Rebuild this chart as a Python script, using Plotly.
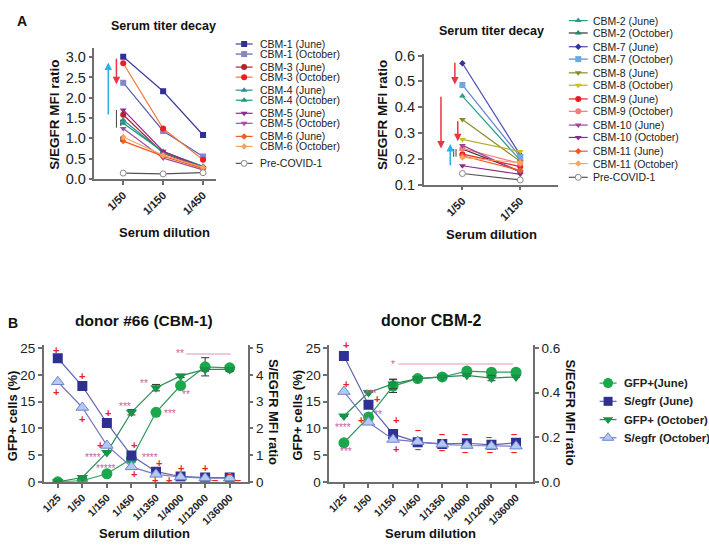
import plotly.graph_objects as go

W, H = 709, 548
FONT = 'Liberation Sans, Arial, sans-serif'

# ---------------- Panel A, left: serum titer decay CBM-1..6
dil_a1 = ['1/50', '1/150', '1/450']
cbm1_june = [3.01, 2.16, 1.08]
cbm1_oct = [2.37, 1.18, 0.55]
cbm3_june = [1.58, 0.63, 0.27]
cbm3_oct = [2.85, 1.24, 0.47]
cbm4_june = [1.45, 0.65, 0.30]
cbm4_oct = [1.37, 0.67, 0.31]
cbm5_june = [1.70, 0.68, 0.28]
cbm5_oct = [1.24, 0.51, 0.22]
cbm6_june = [0.93, 0.56, 0.25]
cbm6_oct = [1.03, 0.58, 0.28]
precovid_a1 = [0.14, 0.12, 0.15]

# ---------------- Panel A, right: CBM-2, 7..11
dil_a2 = ['1/50', '1/150']
cbm2_june = [0.443, 0.195]
cbm2_oct = [0.238, 0.152]
cbm7_june = [0.570, 0.215]
cbm7_oct = [0.486, 0.207]
cbm8_june = [0.352, 0.190]
cbm8_oct = [0.275, 0.228]
cbm9_june = [0.218, 0.170]
cbm9_oct = [0.240, 0.182]
cbm10_june = [0.252, 0.148]
cbm10_oct = [0.173, 0.140]
cbm11_june = [0.212, 0.155]
cbm11_oct = [0.205, 0.185]
precovid_a2 = [0.143, 0.118]

# ---------------- Panel B: neutralisation curves
dil_b = ['1/25', '1/50', '1/150', '1/450', '1/1350', '1/4000', '1/12000', '1/36000']
# donor #66 (CBM-1)
b1_gfp_june = [0.0, 0.2, 1.5, 4.3, 13.0, 18.0, 21.5, 21.3]
b1_gfp_june_err = [0, 0, 0, 0, 0, 0, 1.7, 0.4]
b1_gfp_oct = [0.0, 0.8, 5.5, 13.0, 17.6, 19.8, 21.0, 21.0]
b1_gfp_oct_err = [0, 0, 0, 0.5, 0.6, 0.3, 0.3, 0.3]
b1_segfr_june = [4.62, 3.58, 2.20, 0.98, 0.38, 0.20, 0.16, 0.16]
b1_segfr_oct = [3.74, 2.78, 1.36, 0.56, 0.28, 0.18, 0.14, 0.14]
# donor CBM-2
b2_gfp_june = [7.3, 12.1, 17.9, 19.3, 19.6, 20.7, 20.5, 20.5]
b2_gfp_june_err = [0, 0.6, 1.2, 0, 0, 0, 0, 0]
b2_gfp_oct = [12.3, 16.7, 18.3, 19.3, 19.6, 19.9, 19.4, 19.6]
b2_gfp_oct_err = [0, 0, 0.9, 0, 0, 0.2, 0.5, 0]
b2_segfr_june = [0.564, 0.346, 0.214, 0.178, 0.170, 0.173, 0.166, 0.175]
b2_segfr_oct = [0.405, 0.267, 0.190, 0.180, 0.168, 0.163, 0.160, 0.160]

# significance marks (category index, GFP %)
b1_plus = [(-0.07, 24.6), (-0.07, 16.8), (1.0, 19.8), (0.98, 11.8), (2.04, 12.9), (1.73, 6.8),
           (3.1, 6.8), (3.1, 1.4), (4.12, 3.6), (3.95, 0.4), (4.52, 0.4), (5.0, 2.5), (6.0, 2.5)]
b1_minus = [(6.4, 0.3), (6.99, 1.4), (7.33, 0.3)]
b1_stars = [('**', 4.97, 23.9), ('**', 3.51, 18.3), ('**', 5.23, 16.4), ('***', 2.74, 14.1),
            ('***', 4.56, 12.7), ('****', 1.43, 4.5), ('*****', 1.96, 2.4), ('****', 3.75, 4.5)]
b2_plus = [(0.09, 25.5), (0.09, 18.3), (0.7, 11.5), (1.34, 15.5), (2.1, 11.5), (2.1, 6.1)]
b2_minus = [(3.02, 9.7), (3.02, 6.1), (3.97, 8.9), (3.97, 6.0), (4.91, 8.9), (4.93, 5.5),
            (5.89, 8.4), (5.93, 5.5), (6.9, 8.9), (6.93, 5.5)]
b2_stars = [('****', -0.04, 10.1), ('***', 0.09, 5.6), ('***', 1.1, 16.6), ('**', 1.4, 12.6),
            ('*', 2.01, 22.0)]


def px(x):
    return x / W


def py(y):
    return 1 - y / H


series_a1 = [
    ('CBM-1 (June)', cbm1_june, 'square', '#2e3192', '#3b3f9c', 6),
    ('CBM-1 (October)', cbm1_oct, 'square', '#8486c8', '#5d60b0', 6),
    ('CBM-3 (June)', cbm3_june, 'circle', '#b8202a', '#b8202a', 6),
    ('CBM-3 (October)', cbm3_oct, 'circle', '#ee1c25', '#f07a3a', 6),
    ('CBM-4 (June)', cbm4_june, 'triangle-up', '#2a8f96', '#2a8f96', 6),
    ('CBM-4 (October)', cbm4_oct, 'triangle-up', '#179a78', '#179a78', 6),
    ('CBM-5 (June)', cbm5_june, 'triangle-down', '#93278f', '#93278f', 6),
    ('CBM-5 (October)', cbm5_oct, 'triangle-down', '#a2509e', '#a2509e', 6),
    ('CBM-6 (June)', cbm6_june, 'diamond', '#f15a24', '#f15a24', 5),
    ('CBM-6 (October)', cbm6_oct, 'diamond', '#f8a35e', '#f8a35e', 5),
    ('Pre-COVID-1', precovid_a1, 'circle', 'white', '#555555', 6),
]

series_a2 = [
    ('CBM-2 (June)', cbm2_june, 'triangle-up', '#2a9d8f', '#2a9d8f', 6),
    ('CBM-2 (October)', cbm2_oct, 'triangle-up', '#178a68', '#333333', 6),
    ('CBM-7 (June)', cbm7_june, 'diamond', '#33339a', '#4b4bb0', 5),
    ('CBM-7 (October)', cbm7_oct, 'square', '#6aa8e4', '#6a80d0', 6),
    ('CBM-8 (June)', cbm8_june, 'triangle-down', '#8a8a2a', '#8a8a2a', 6),
    ('CBM-8 (October)', cbm8_oct, 'triangle-down', '#c9c020', '#b5b030', 6),
    ('CBM-9 (June)', cbm9_june, 'circle', '#ed1c24', '#ed1c24', 6),
    ('CBM-9 (October)', cbm9_oct, 'circle', '#f47c7c', '#f47c7c', 6),
    ('CBM-10 (June)', cbm10_june, 'triangle-down', '#a0449c', '#a0449c', 6),
    ('CBM-10 (October)', cbm10_oct, 'triangle-down', '#8a2a8a', '#8a2a8a', 6),
    ('CBM-11 (June)', cbm11_june, 'diamond', '#f15a24', '#f15a24', 5),
    ('CBM-11 (October)', cbm11_oct, 'diamond', '#f8a35e', '#f8a35e', 5),
    ('Pre-COVID-1', precovid_a2, 'circle', 'white', '#555555', 6),
]

fig = go.Figure()


def marker_style(symbol, mcolor, lcolor, size):
    if mcolor == 'white':
        return dict(symbol=symbol, size=size, color='white', line=dict(color='#888888', width=1))
    return dict(symbol=symbol, size=size, color=mcolor, line=dict(width=0))


for name, vals, sym, mc, lc, sz in series_a1:
    fig.add_trace(go.Scatter(x=dil_a1, y=vals, xaxis='x', yaxis='y', mode='lines+markers',
                             line=dict(color=lc, width=1.2), marker=marker_style(sym, mc, lc, sz),
                             name=name, showlegend=False))

for name, vals, sym, mc, lc, sz in series_a2:
    fig.add_trace(go.Scatter(x=dil_a2, y=vals, xaxis='x2', yaxis='y2', mode='lines+markers',
                             line=dict(color=lc, width=1.2), marker=marker_style(sym, mc, lc, sz),
                             name=name, showlegend=False))

series_b = [
    ('GFP+(June)', 'circle', '#1ba84c', '#2f9c5a', 11, 'white'),
    ('S/egfr (June)', 'square', '#2e3192', '#6063b0', 10, 'white'),
    ('GFP+ (October)', 'triangle-down', '#159445', '#2a8a55', 10, 'white'),
    ('S/egfr (October)', 'triangle-up', '#b3c9ef', '#7679c4', 11, '#6f84cc'),
]

panels_b = [
    ('x3', 'y3', 'y4', b1_gfp_june, b1_gfp_june_err, b1_segfr_june, b1_gfp_oct, b1_gfp_oct_err, b1_segfr_oct),
    ('x5', 'y5', 'y6', b2_gfp_june, b2_gfp_june_err, b2_segfr_june, b2_gfp_oct, b2_gfp_oct_err, b2_segfr_oct),
]

for xa, ya, yr, gj, gje, sj, go_, goe, so in panels_b:
    data = [(gj, gje, ya), (sj, None, yr), (go_, goe, ya), (so, None, yr)]
    for (vals, err, yax), (name, sym, mc, lc, sz, mlc) in zip(data, series_b):
        mk = dict(symbol=sym, size=sz, color=mc, line=dict(width=1 if mlc != 'white' else 0, color=mlc))
        tr = go.Scatter(x=dil_b, y=vals, xaxis=xa, yaxis=yax, mode='lines+markers',
                        line=dict(color=lc, width=1.2), marker=mk, name=name, showlegend=False)
        if err is not None:
            tr.error_y = dict(type='data', array=err, color='#333333', thickness=1, width=4)
        fig.add_trace(tr)

# ---------------- custom legends drawn on a hidden full-figure axis
def add_key(name, sym, mc, lc, sz, x0, y0, length, gap, fsize, bold=False, mlc=None):
    fig.add_trace(go.Scatter(x=[x0, x0 + length], y=[y0, y0], xaxis='x7', yaxis='y7', mode='lines',
                             line=dict(color=lc, width=1.2), showlegend=False, hoverinfo='skip'))
    if mlc is not None and mlc != 'white':
        mk = dict(symbol=sym, size=sz, color=mc, line=dict(width=1, color=mlc))
    else:
        mk = marker_style(sym, mc, lc, sz)
    fig.add_trace(go.Scatter(x=[x0 + length / 2], y=[y0], xaxis='x7', yaxis='y7', mode='markers',
                             marker=mk, showlegend=False, hoverinfo='skip'))
    txt = '<b>%s</b>' % name if bold else name
    fig.add_annotation(x=x0 + length + gap, y=y0, xref='x7', yref='y7', text=txt, showarrow=False,
                       xanchor='left', yanchor='middle', font=dict(family=FONT, size=fsize, color='#222'))


for i, (name, vals, sym, mc, lc, sz) in enumerate(series_a1):
    yk = 39 + (i // 2) * 23.7 + (i % 2) * 10.3 + (4 if i == 10 else 0)
    add_key(name, sym, mc, lc, sz, 233, yk, 17, 5, 10.5)

for i, (name, vals, sym, mc, lc, sz) in enumerate(series_a2):
    yk = 15 + (i // 2) * 26.8 + (i % 2) * 12.7
    add_key(name, sym, mc, lc, sz, 568, yk, 19, 3, 10.5)

for i, (name, sym, mc, lc, sz, mlc) in enumerate(series_b):
    add_key(name, sym, mc, lc, sz - 1, 599, 387 + i * 18.7, 17, 5, 11.3, bold=True, mlc=mlc)

# ---------------- axes
line_col = '#6e6e6e'
base = dict(showline=True, linecolor=line_col, linewidth=1.5, ticks='outside', ticklen=4,
            tickcolor=line_col, tickwidth=1.5, showgrid=False, zeroline=False)
yfont_a = dict(family=FONT, size=14.5, color='#222')
yfont_b = dict(family=FONT, size=13.5, color='#222')
xfont_a = dict(family=FONT, size=11, color='#222', weight='bold')
xfont_b = dict(family=FONT, size=10.5, color='#222', weight='bold')

fig.update_layout(
    width=W, height=H, margin=dict(l=0, r=0, t=0, b=0),
    paper_bgcolor='white', plot_bgcolor='rgba(0,0,0,0)', showlegend=False,
    xaxis=dict(base, domain=[px(91), px(213)], anchor='y', type='category', range=[-0.72, 2.32],
               tickangle=-45, tickfont=xfont_a),
    yaxis=dict(base, domain=[py(177.3), py(43)], anchor='x', range=[0, 3.23],
               tickvals=[0, 0.5, 1, 1.5, 2, 2.5, 3], tickformat='.1f', tickfont=yfont_a),
    xaxis2=dict(base, domain=[px(422), px(557)], anchor='y2', type='category', range=[-0.67, 1.65],
                tickangle=-45, tickfont=xfont_a),
    yaxis2=dict(base, domain=[py(183.3), py(49)], anchor='x2', range=[0.1, 0.607],
                tickvals=[0.1, 0.2, 0.3, 0.4, 0.5, 0.6], tickformat='.1f', tickfont=yfont_a),
    xaxis3=dict(base, domain=[px(40), px(245)], anchor='y3', type='category', range=[-0.57, 7.73],
                tickangle=-45, tickfont=xfont_b),
    yaxis3=dict(base, domain=[py(488.3), py(348.3)], anchor='x3', range=[0, 25.5], dtick=5,
                tickfont=yfont_b),
    yaxis4=dict(base, overlaying='y3', side='right', anchor='x3', range=[0, 5.1], dtick=1,
                tickfont=yfont_b),
    xaxis5=dict(base, domain=[px(327), px(532)], anchor='y5', type='category', range=[-0.6, 7.69],
                tickangle=-45, tickfont=xfont_b),
    yaxis5=dict(base, domain=[py(488.3), py(348.3)], anchor='x5', range=[0, 25.5], dtick=5,
                tickfont=yfont_b),
    yaxis6=dict(base, overlaying='y5', side='right', anchor='x5', range=[0, 0.612], dtick=0.2,
                tickformat='.1f', tickfont=yfont_b),
    xaxis7=dict(domain=[0, 1], range=[0, W], visible=False, anchor='y7', fixedrange=True),
    yaxis7=dict(domain=[0, 1], range=[H, 0], visible=False, anchor='x7', fixedrange=True),
)

# ---------------- text
def label(text, x, y, size, angle=0, bold=True):
    fig.add_annotation(x=px(x), y=py(y), xref='paper', yref='paper', showarrow=False,
                       text='<b>%s</b>' % text if bold else text, textangle=angle,
                       xanchor='center', yanchor='middle',
                       font=dict(family=FONT, size=size, color='#111'))


label('A', 18, 15, 14)
label('Serum titer decay', 160, 21, 12.5)
label('Serum titer decay', 490, 26, 12.5)
label('S/EGFR MFI ratio', 50, 112, 13.5, -90)
label('S/EGFR MFI ratio', 380, 112, 13.5, -90)
label('Serum dilution', 161, 232, 13)
label('Serum dilution', 490, 234, 13)
label('B', 9, 325, 14)
label('donor #66 (CBM-1)', 141, 323, 15.5)
label('donor CBM-2', 430, 323, 16)
label('GFP+ cells (%)', 8, 420, 13, -90)
label('GFP+ cells (%)', 295, 420, 13, -90)
label('S/EGFR MFI ratio', 271, 417, 13, 90)
label('S/EGFR MFI ratio', 570, 417, 13, 90)
label('Serum dilution', 141, 541, 13)
label('Serum dilution', 429, 541, 13)

# ---------------- arrows and bars in panel A
def arrow(xr, yr, x, y0, y1, color):
    fig.add_annotation(x=x, y=y1, ax=x, ay=y0, xref=xr, yref=yr, axref=xr, ayref=yr, text='',
                       showarrow=True, arrowhead=2, arrowsize=1, arrowwidth=1.5, arrowcolor=color)


def vbar(xr, yr, x, y0, y1):
    fig.add_shape(type='line', xref=xr, yref=yr, x0=x, x1=x, y0=y0, y1=y1,
                  line=dict(color='#444444', width=1))


cyan, red = '#27b4e6', '#ee3344'
arrow('x', 'y', -0.375, 1.55, 2.87, cyan)
arrow('x', 'y', -0.17, 3.0, 2.33, red)
vbar('x', 'y', -0.17, 1.26, 1.70)
vbar('x', 'y', -0.06, 1.30, 1.46)
vbar('x', 'y', -0.06, 0.92, 1.04)

arrow('x2', 'y2', -0.13, 0.578, 0.488, red)
arrow('x2', 'y2', -0.37, 0.446, 0.240, red)
arrow('x2', 'y2', -0.08, 0.351, 0.268, red)
arrow('x2', 'y2', -0.21, 0.169, 0.257, cyan)
vbar('x2', 'y2', -0.15, 0.208, 0.238)
vbar('x2', 'y2', -0.11, 0.208, 0.238)

# ---------------- significance marks in panel B
def marks(xr, yr, plus, minus, stars, line_x, line_y):
    for x, y in plus:
        fig.add_annotation(x=x, y=y, xref=xr, yref=yr, text='<b>+</b>', showarrow=False,
                           font=dict(family=FONT, size=11, color='#ee2222'))
    for x, y in minus:
        fig.add_annotation(x=x, y=y, xref=xr, yref=yr, text='<b>–</b>', showarrow=False,
                           font=dict(family=FONT, size=11, color='#ee2222'))
    for s, x, y in stars:
        fig.add_annotation(x=x, y=y, xref=xr, yref=yr, text=s, showarrow=False,
                           font=dict(family=FONT, size=10, color='#c8609f'))
    fig.add_shape(type='line', xref=xr, yref=yr, x0=line_x[0], x1=line_x[1], y0=line_y, y1=line_y,
                  line=dict(color='#eab8d0', width=1.5))


marks('x3', 'y3', b1_plus, b1_minus, b1_stars, (5.23, 7.05), 23.9)
marks('x5', 'y5', b2_plus, b2_minus, b2_stars, (2.21, 6.87), 22.0)

# the page's default body margin would shift the figure, so drop it
fig.write_html('out.html', config={'displayModeBar': False},
               post_script="document.body.style.margin='0';")
